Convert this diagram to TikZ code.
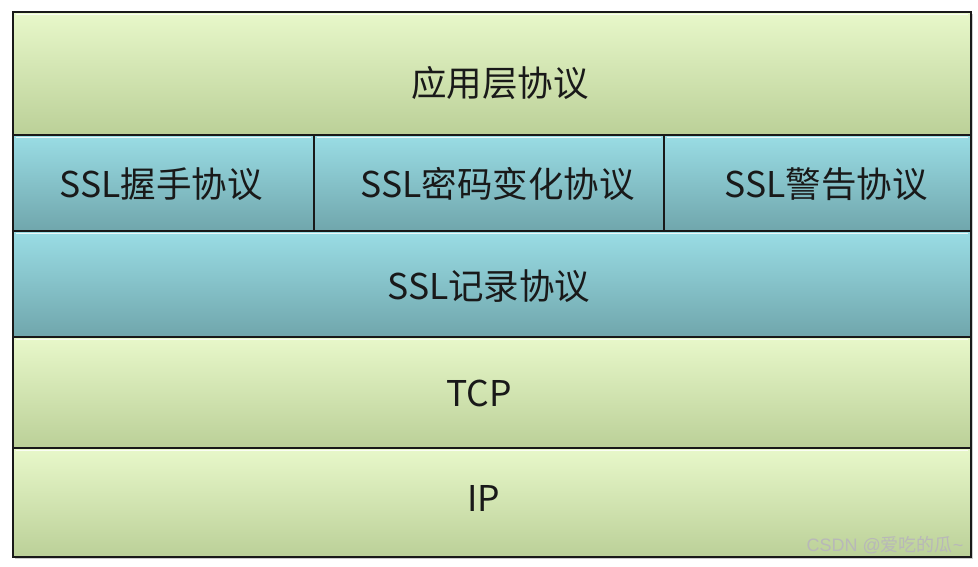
\documentclass[tikz,border=0pt]{standalone}
\usepackage{fontspec}
\newfontfamily\cjk{Noto Sans CJK SC}
\newfontfamily\wmfont{Liberation Sans}
\usepackage{xcolor}
\usepackage{tikz}
\usetikzlibrary{positioning, calc}

\definecolor{greenTop}{HTML}{E8F8CA}
\definecolor{greenMid}{HTML}{D6F4B7}
\definecolor{greenBot}{HTML}{BBD098}
\definecolor{tealTop}{HTML}{9ADDE5}
\definecolor{tealMid}{HTML}{8CCAD2}
\definecolor{tealBot}{HTML}{70A6AC}

\begin{document}
\begin{tikzpicture}[
    x=1pt, y=-1pt,
    font=\cjk\fontsize{35.5}{40}\selectfont,
    % Define layer styles
    layer_box/.style={rectangle, draw=black!90, line width=1.8pt, anchor=north west, inner sep=0pt,
        path picture={\draw[white, opacity=0.8, line width=1.6pt]
            ([xshift=3pt, yshift=-2.5pt]path picture bounding box.north west) --
            ([xshift=-3pt, yshift=-2.5pt]path picture bounding box.north east);}},
    green_layer/.style={layer_box, top color=greenTop, middle color=greenMid, bottom color=greenBot},
    teal_layer/.style={layer_box, top color=tealTop, middle color=tealMid, bottom color=tealBot},
    layer_text/.style={text=black!90, inner sep=0pt},
]
\useasboundingbox (0,0) rectangle (978,566);
\fill[white] (0,0) rectangle (978,566);

% shadow
\fill[black!20] (15,14) rectangle (973,559);

% Layers (Top to Bottom)
\node[green_layer, minimum width=958pt, minimum height=123pt] (app) at (12,11) {};
\node[teal_layer, minimum width=301pt, minimum height=96pt] (hand) at (12,134) {};
\node[teal_layer, minimum width=350pt, minimum height=96pt] (ccs) at (313,134) {};
\node[teal_layer, minimum width=307pt, minimum height=96pt] (alert) at (663,134) {};
\node[teal_layer, minimum width=958pt, minimum height=106pt] (rec) at (12,230) {};
\node[green_layer, minimum width=958pt, minimum height=111pt] (tcp) at (12,336) {};
\node[green_layer, minimum width=958pt, minimum height=109pt] (ip) at (12,447) {};

% Labels
\node[layer_text, xshift=8pt, yshift=-10pt] (appT) at (app.center) {应用层协议};
\node[layer_text, xshift=-2pt, yshift=-1pt] (handT) at (hand.center) {SSL握手协议};
\node[layer_text, xshift=9pt, yshift=-1pt] (ccsT) at (ccs.center) {SSL密码变化协议};
\node[layer_text, xshift=9pt, yshift=-1pt] (alertT) at (alert.center) {SSL警告协议};
\node[layer_text, xshift=-3pt, yshift=-2pt] (recT) at (rec.center) {SSL记录协议};
\node[layer_text, xshift=-13pt, yshift=-1pt] (tcpT) at (tcp.center) {TCP};
\node[layer_text, xshift=-8pt, yshift=4pt] (ipT) at (ip.center) {IP};

% Watermark
\node[text=white!72!black, font=\wmfont\fontsize{18}{20}\selectfont, anchor=east] (mark) at (967,545) {CSDN @\cjk 爱吃的瓜\wmfont\textasciitilde};

\end{tikzpicture}
\end{document}
